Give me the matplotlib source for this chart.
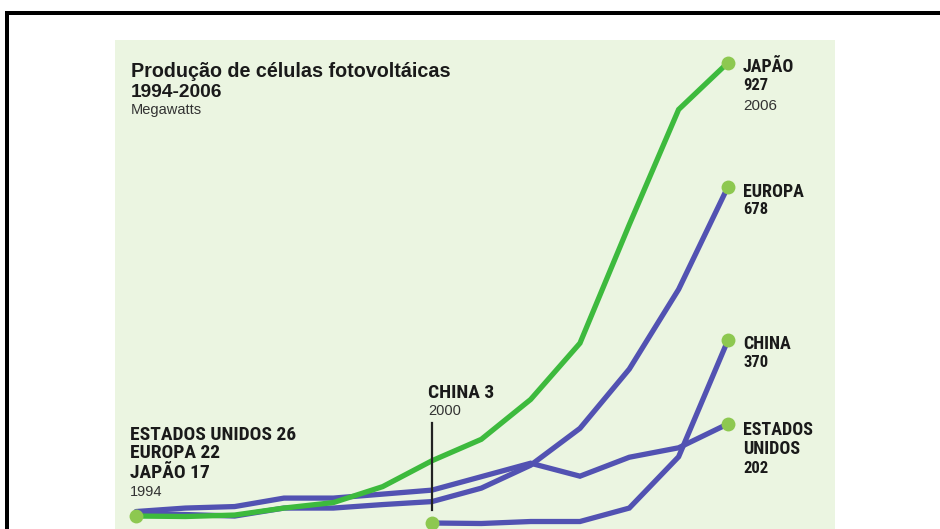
import matplotlib
matplotlib.use('Agg')
import matplotlib.pyplot as plt
import matplotlib.patches as patches
import matplotlib.font_manager as fm

# Produção de células fotovoltáicas, megawatts
years = list(range(1994, 2007))
japao = [17, 16, 19, 33, 44, 76, 128, 171, 251, 364, 602, 833, 927]
europa = [22, 20, 17, 33, 33, 40, 46, 73, 119, 193, 312, 472, 678]
estados_unidos = [26, 33, 36, 53, 53, 61, 69, 96, 123, 97, 135, 154, 202]
china_years = list(range(2000, 2007))
china = [3, 2, 6, 6, 33, 136, 370]

W, H = 940, 529
panel_color = '#ebf5e1'
blue = '#5252b2'
green = '#3dba3d'
dot = '#8dc850'
ink = '#1a1a1a'
grey = '#333333'


def weight_num(w):
    if isinstance(w, str):
        return fm.weight_dict.get(w, 400)
    return w


# look for a condensed bold face; fall back to Liberation Sans Bold, squeezed by size
narrow_prop = None
squeeze = 1.0
for want in ['Liberation Sans Narrow', 'Roboto Condensed', 'Open Sans Condensed', 'DejaVu Sans']:
    for f in fm.fontManager.ttflist:
        condensed = 'Narrow' in f.name or 'Condensed' in f.name or 'condensed' in str(f.stretch) \
            or 'Condensed' in f.fname or 'Narrow' in f.fname
        if f.name.startswith(want.split()[0]) and condensed and weight_num(f.weight) >= 600 \
                and f.style == 'normal':
            narrow_prop = fm.FontProperties(fname=f.fname)
            break
    if narrow_prop is not None:
        break
if narrow_prop is None:
    narrow_prop = fm.FontProperties(family=['Liberation Sans', 'DejaVu Sans'], weight='bold')
    squeeze = 0.86

fig = plt.figure(figsize=(W / 100, H / 100), dpi=100)
fig.patch.set_facecolor('white')


def px(x, y):
    return x / W, 1 - y / H


def cap(x, y, s, size):
    fx, fy = px(x, y)
    fig.text(fx, fy, s, fontproperties=narrow_prop, fontsize=size * squeeze, color=ink,
             ha='left', va='baseline')


def label(x, y, s, size, bold=False, color=grey):
    fx, fy = px(x, y)
    fig.text(fx, fy, s, fontsize=size, fontweight='bold' if bold else 'normal',
             family=['Liberation Sans', 'DejaVu Sans'], color=color, ha='left', va='baseline')


# black frame (top and left visible)
fig.add_artist(patches.Rectangle(px(5, 15), 1, 4 / H, transform=fig.transFigure,
                                 facecolor='black', edgecolor='none'))
fig.add_artist(patches.Rectangle(px(5, H + 5), 4 / W, (H - 6) / H, transform=fig.transFigure,
                                 facecolor='black', edgecolor='none'))

# plot panel
left, right, top, bottom = 115, 835, 40, 529
ax = fig.add_axes([left / W, 1 - bottom / H, (right - left) / W, (bottom - top) / H])
ax.set_facecolor(panel_color)
ax.set_xlim(1993.574, 2008.170)
ax.set_ylim(-9.03, 972.5)
for s in ax.spines.values():
    s.set_visible(False)
ax.set_xticks([])
ax.set_yticks([])

lw = 3.8
kw = dict(lw=lw, solid_capstyle='round', solid_joinstyle='miter')
ax.plot(china_years, china, color=blue, clip_on=False, **kw)
ax.plot(years, estados_unidos, color=blue, **kw)
ax.plot(years, europa, color=blue, **kw)
ax.plot(years, japao, color=green, **kw)

# marker for 2000 (China start)
ax.plot([2000, 2000], [29, 204], color='#222222', lw=1.6)

ms = 10
# one shared dot where the three 1994 lines start, one where China starts
ax.plot([years[0], china_years[0]], [japao[0], china[0]], 'o', color=dot, ms=ms, mec='none',
        clip_on=False, zorder=5)
ends_y = [japao[-1], europa[-1], china[-1], estados_unidos[-1]]
ax.plot([years[-1]] * 4, ends_y, 'o', color=dot, ms=ms, mec='none', clip_on=False, zorder=5)

# title
label(131, 77, 'Produção de células fotovoltáicas', 14.2, bold=True, color=ink)
label(131, 97, '1994-2006', 13.8, bold=True, color=ink)
label(131, 114, 'Megawatts', 10.5)

# start labels
cap(130, 440, f'ESTADOS UNIDOS {estados_unidos[0]}', 14)
cap(130, 458.5, f'EUROPA {europa[0]}', 14)
cap(130, 478, f'JAPÃO {japao[0]}', 14)
label(130, 496, str(years[0]), 10.5)

cap(428, 397.5, f'CHINA {china[0]}', 14)
label(428, 415, str(china_years[0]), 10.5)

# end labels
ex = 743
cap(ex, 71.5, 'JAPÃO', 13)
cap(ex, 90, str(japao[-1]), 12)
label(ex, 110, str(years[-1]), 11)

cap(ex, 196.7, 'EUROPA', 13)
cap(ex, 213.5, str(europa[-1]), 12)

cap(ex, 349.3, 'CHINA', 13)
cap(ex, 366.7, str(china[-1]), 12)

cap(ex, 435, 'ESTADOS', 13)
cap(ex, 454, 'UNIDOS', 13)
cap(ex, 473.3, str(estados_unidos[-1]), 12)

fig.savefig('out.png', dpi=100)
